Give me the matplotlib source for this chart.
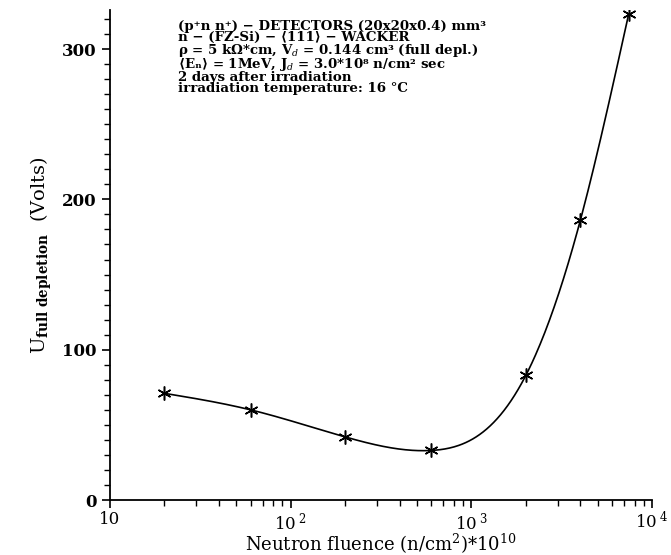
import numpy as np
import matplotlib
matplotlib.use("Agg")
import matplotlib.pyplot as plt
from matplotlib.ticker import FixedLocator, FixedFormatter, MultipleLocator, LogLocator, NullFormatter

plt.rcParams['font.family'] = ['DejaVu Serif', 'DejaVu Sans']
plt.rcParams['mathtext.fontset'] = 'dejavuserif'

# data
fluence = [20, 60, 200, 600, 2000, 4000, 7400]
u_depl = [71, 60, 42, 33, 83, 186, 323]

x_ticks = [10, 100, 1000, 10000]
x_ticklabels = ["10", r"10$^{\ 2}$", r"10$^{\ 3}$", r"10$^{\ 4}$"]
y_ticks = [0, 100, 200, 300]

info_lines = [
    "(p⁺n n⁺) − DETECTORS (20x20x0.4) mm³",
    "n − (FZ-Si) − ⟨111⟩ − WACKER",
    r"ρ = 5 kΩ*cm, V$_d$ = 0.144 cm³ (full depl.)",
    r"⟨Eₙ⟩ = 1MeV, J$_d$ = 3.0*10⁸ n/cm² sec",
    "2 days after irradiation",
    "irradiation temperature: 16 °C",
]


def natural_spline(xk, yk, xs):
    # plain natural cubic spline, used only to draw the smooth line
    n = len(xk)
    h = np.diff(xk)
    A = np.zeros((n, n))
    b = np.zeros(n)
    A[0, 0] = A[-1, -1] = 1
    for i in range(1, n - 1):
        A[i, i - 1] = h[i - 1]
        A[i, i] = 2 * (h[i - 1] + h[i])
        A[i, i + 1] = h[i]
        b[i] = 6 * ((yk[i + 1] - yk[i]) / h[i] - (yk[i] - yk[i - 1]) / h[i - 1])
    m = np.linalg.solve(A, b)
    out = np.empty_like(xs)
    for j, x in enumerate(xs):
        i = min(max(np.searchsorted(xk, x) - 1, 0), n - 2)
        t = x - xk[i]
        a = yk[i]
        bb = (yk[i + 1] - yk[i]) / h[i] - h[i] * (2 * m[i] + m[i + 1]) / 6
        c = m[i] / 2
        d = (m[i + 1] - m[i]) / (6 * h[i])
        out[j] = a + bb * t + c * t ** 2 + d * t ** 3
    return out


lx = np.log10(fluence)
xs = np.linspace(lx[0], lx[-1], 400)
ys = natural_spline(lx, np.array(u_depl, float), xs)

fig = plt.figure(figsize=(6.71, 5.55), dpi=100)
ax = fig.add_axes([0.164, 0.099, 0.808, 0.883])

ax.plot(10 ** xs, ys, color='black', lw=1.2)
ax.plot(fluence, u_depl, linestyle='none', marker=(6, 2, 0), ms=10,
        mec='black', mew=1.1, color='black')

ax.set_xscale('log')
ax.set_xlim(10, 10000)
ax.set_ylim(0, 326)

ax.xaxis.set_major_locator(FixedLocator(x_ticks))
ax.xaxis.set_major_formatter(FixedFormatter(x_ticklabels))
ax.xaxis.set_minor_locator(LogLocator(base=10, subs=np.arange(2, 10)))
ax.xaxis.set_minor_formatter(NullFormatter())
ax.yaxis.set_major_locator(FixedLocator(y_ticks))
ax.yaxis.set_minor_locator(MultipleLocator(10))

ax.spines['top'].set_visible(False)
ax.spines['right'].set_visible(False)
for s in ('left', 'bottom'):
    ax.spines[s].set_linewidth(1.3)

ax.tick_params(axis='both', which='major', direction='out', length=6, width=1.2,
               labelsize=12)
ax.tick_params(axis='both', which='minor', direction='out', length=4, width=1.0)
ax.tick_params(axis='x', pad=2)
for lab in ax.get_yticklabels():
    lab.set_fontweight('bold')

ax.set_xlabel(r"Neutron fluence (n/cm$^{2}$)*10$^{10}$", fontsize=13, labelpad=-1)
ax.set_ylabel(r"U$_{\mathbf{full\ depletion}}$  (Volts)", fontsize=14, labelpad=6)

fig.text(178 / 671, 1 - 20 / 555, "\n".join(info_lines), fontsize=9.6,
         fontweight='bold', va='top', ha='left', linespacing=0.8)

fig.savefig("out.png", dpi=100)
